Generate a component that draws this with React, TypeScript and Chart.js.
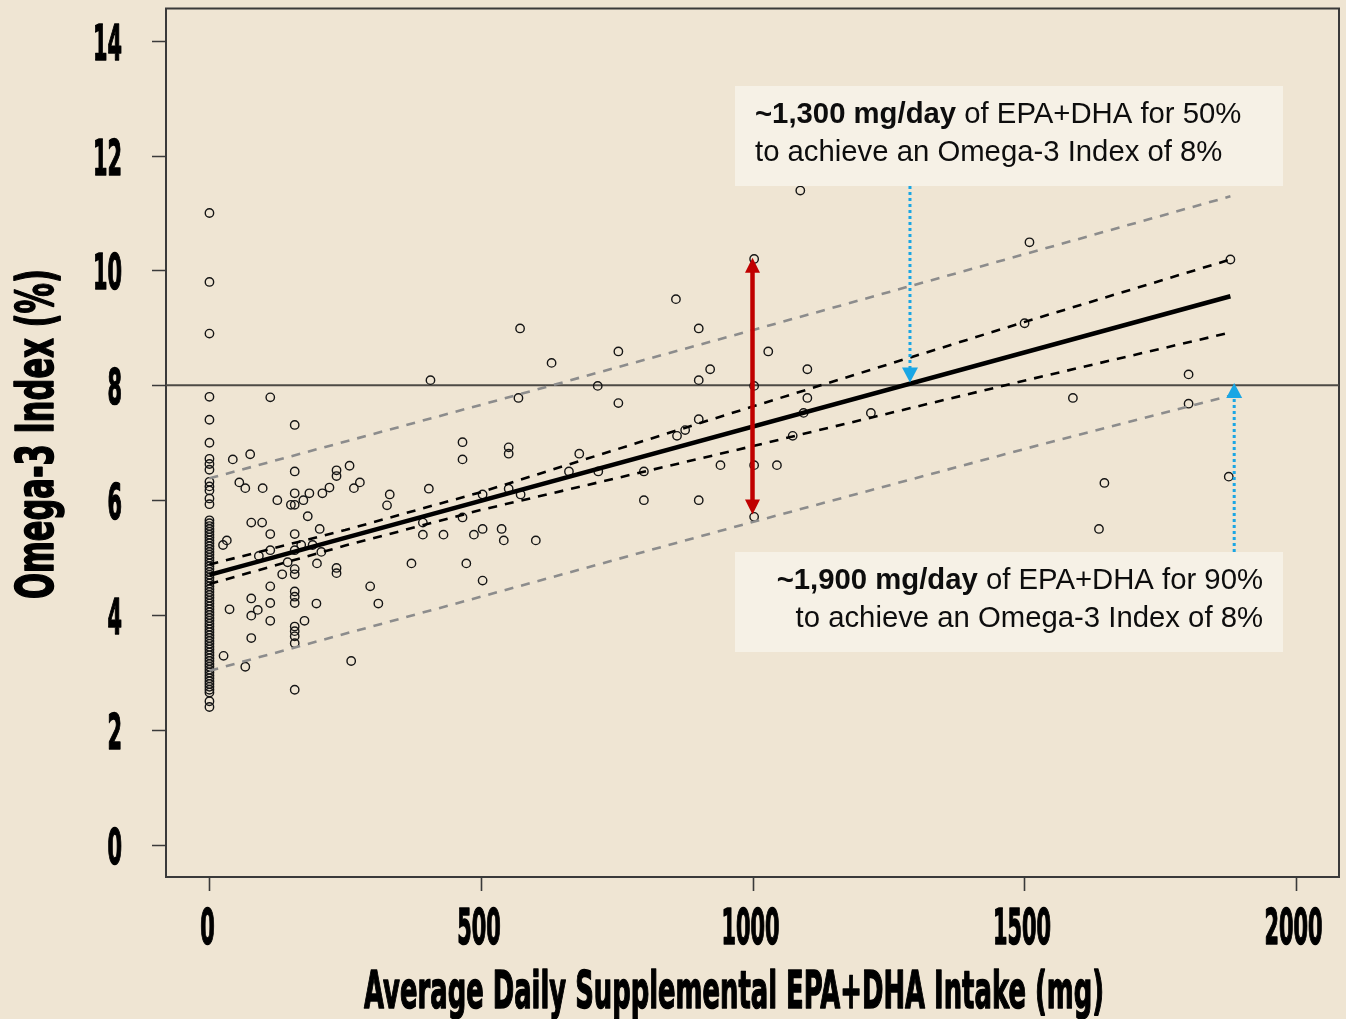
import React, { useEffect, useRef } from 'react';
import { Chart, registerables } from 'chart.js';

Chart.register(...registerables);

// ---------- data ----------
const X_TICKS = [0, 500, 1000, 1500, 2000];
const Y_TICKS = [0, 2, 4, 6, 8, 10, 12, 14];
const X_LIMITS = [-80, 2080];
const Y_LIMITS = [-0.56, 14.56];

const X_TITLE = 'Average Daily Supplemental EPA+DHA Intake (mg)';
const Y_TITLE = 'Omega-3 Index (%)';

// Omega-3 Index of participants taking no supplement (dose = 0)
const NO_SUPPLEMENT_INDEX = [
  11.0, 9.8, 8.9, 7.8, 7.4, 7.0, 6.72, 6.63, 6.53, 6.32, 6.24, 6.17, 6.03, 5.93,
  5.65, 5.6, 5.55, 5.5, 5.45, 5.4, 5.35, 5.3, 5.25, 5.2, 5.15, 5.1, 5.05, 5.0,
  4.95, 4.9, 4.85, 4.8, 4.75, 4.7, 4.65, 4.6, 4.55, 4.5, 4.45, 4.4, 4.35, 4.3,
  4.25, 4.2, 4.15, 4.1, 4.05, 4.0, 3.95, 3.9, 3.85, 3.8, 3.75, 3.7, 3.65, 3.6,
  3.55, 3.5, 3.45, 3.4, 3.35, 3.3, 3.25, 3.2, 3.15, 3.1, 3.05, 3.0, 2.95, 2.9,
  2.85, 2.8, 2.75, 2.7, 2.65, 2.5, 2.4,
];

// [dose mg/day, Omega-3 Index %] for supplement users
const SUPPLEMENTED = [
  [25, 5.22], [32, 5.3], [26, 3.29], [37, 4.1], [43, 6.71], [55, 6.31], [66, 6.21], [66, 3.1],
  [75, 6.8], [77, 5.61], [77, 4.29], [77, 3.99], [77, 3.6], [89, 4.09], [91, 5.03], [97, 5.61],
  [98, 6.21], [112, 7.79], [112, 5.41], [112, 5.13], [112, 4.5], [112, 4.21], [112, 3.9],
  [125, 6.0], [134, 4.71], [144, 4.92], [150, 5.92], [157, 7.31], [157, 6.5], [157, 6.12],
  [157, 5.92], [157, 5.41], [157, 5.13], [157, 4.8], [157, 4.71], [157, 4.41], [157, 4.32],
  [157, 4.21], [157, 3.8], [157, 3.72], [157, 3.63], [157, 3.51], [157, 2.7], [173, 6.0],
  [175, 3.9], [181, 5.72], [184, 6.12], [169, 5.22], [190, 5.22], [197, 4.2], [198, 4.9],
  [203, 5.5], [206, 5.1], [208, 6.12], [221, 6.22], [234, 6.52], [234, 6.42], [234, 4.82],
  [234, 4.73], [258, 6.6], [261, 3.2], [266, 6.21], [277, 6.31], [296, 4.5], [311, 4.2],
  [327, 5.91], [332, 6.1], [372, 4.9], [393, 5.61], [393, 5.4], [404, 6.2], [407, 8.09],
  [431, 5.4], [466, 7.01], [466, 6.71], [466, 5.7], [473, 4.9], [487, 5.4], [503, 6.1],
  [503, 5.5], [503, 4.6], [538, 5.5], [542, 5.3], [551, 6.92], [551, 6.81], [551, 6.2],
  [569, 7.78], [572, 8.99], [573, 6.1], [601, 5.3], [630, 8.39], [662, 6.5], [681, 6.81],
  [715, 7.99], [716, 6.5], [753, 8.59], [753, 7.69], [800, 6.5], [800, 6.0], [859, 9.5],
  [861, 7.12], [876, 7.22], [901, 8.99], [901, 8.09], [901, 7.41], [901, 6.0], [922, 8.28],
  [941, 6.61], [1003, 10.2], [1003, 7.99], [1003, 6.61], [1003, 5.71], [1029, 8.59],
  [1045, 6.61], [1074, 7.12], [1088, 11.39], [1094, 7.52], [1101, 8.28], [1101, 7.78],
  [1218, 7.52], [1501, 9.08], [1510, 10.49], [1590, 7.78], [1638, 5.5], [1648, 6.3],
  [1803, 8.19], [1803, 7.68], [1877, 6.41], [1880, 10.19],
];

// regression fit and bands
const FIT_X = [0, 1880];
const FIT_Y = [4.7, 9.55];
const CI_X = [0, 250, 500, 1000, 1500, 1880];
const CI_UPPER = [4.88, 5.48, 6.14, 7.63, 9.1, 10.19];
const CI_LOWER = [4.54, 5.21, 5.83, 6.94, 8.08, 8.92];
const PI_X = [0, 500, 1000, 1500, 1880];
const PI_UPPER = [6.38, 7.66, 8.96, 10.28, 11.29];
const PI_LOWER = [3.03, 4.32, 5.62, 6.89, 7.82];
const TARGET_INDEX = 8;

// annotation arrows (data units)
const RANGE_ARROW = { x: 1000, low: 5.75, high: 10.22 };
const DOSE_50_ARROW = { x: 1290, from: 11.47, to: 8.05 };
const DOSE_90_ARROW = { x: 1887, from: 5.1, to: 8.04 };

const NOTE_50 = ['~1,300 mg/day', ' of EPA+DHA for 50%', 'to achieve an Omega-3 Index of 8%'];
const NOTE_90 = ['~1,900 mg/day', ' of EPA+DHA for 90%', 'to achieve an Omega-3 Index of 8%'];

// ---------- styles ----------
const BG = '#efe5d3';
const NOTE_BG = '#f6f1e6';
const AXIS_COLOR = '#3a3a3a';
const BIG_FONT = '"DejaVu Sans", sans-serif';
const NOTE_FONT = '"Liberation Sans", Arial, sans-serif';
const NOTE_SIZE = 29.3;

function condensedText(ctx: CanvasRenderingContext2D, text: string, x: number, y: number, scaleX: number, align: CanvasTextAlign) {
  ctx.save();
  ctx.translate(x, y);
  ctx.scale(scaleX, 1);
  ctx.textAlign = align;
  ctx.textBaseline = 'alphabetic';
  ctx.lineJoin = 'round';
  ctx.lineWidth = 1.6;
  ctx.strokeStyle = '#000';
  ctx.strokeText(text, 0, 0);
  ctx.fillText(text, 0, 0);
  ctx.restore();
}

function head(ctx: CanvasRenderingContext2D, x: number, tipY: number, dir: number, w: number, h: number) {
  ctx.beginPath();
  ctx.moveTo(x, tipY);
  ctx.lineTo(x - w / 2, tipY - dir * h);
  ctx.lineTo(x + w / 2, tipY - dir * h);
  ctx.closePath();
  ctx.fill();
}

const framePlugin = {
  id: 'frame',
  beforeDatasetsDraw(chart: any) {
    const { ctx, chartArea: a, scales } = chart;
    const xs = scales.x;
    const ys = scales.y;
    ctx.save();
    ctx.strokeStyle = AXIS_COLOR;
    ctx.lineWidth = 2;
    ctx.strokeRect(a.left, a.top, a.right - a.left, a.bottom - a.top);
    ctx.lineWidth = 1.6;
    ctx.beginPath();
    for (const v of Y_TICKS) {
      const p = Math.round(ys.getPixelForValue(v)) + 0.5;
      ctx.moveTo(a.left - 14, p);
      ctx.lineTo(a.left, p);
    }
    for (const v of X_TICKS) {
      const p = Math.round(xs.getPixelForValue(v)) + 0.5;
      ctx.moveTo(p, a.bottom);
      ctx.lineTo(p, a.bottom + 14);
    }
    ctx.stroke();

    // tick labels
    ctx.fillStyle = '#000';
    ctx.font = `bold 50px ${BIG_FONT}`;
    const digitW = ctx.measureText('0').width;
    const s = 14.5 / digitW;
    for (const v of Y_TICKS) {
      const p = ys.getPixelForValue(v);
      condensedText(ctx, String(v), a.left - 44, p + 19, s, 'right');
    }
    for (const v of X_TICKS) {
      const p = xs.getPixelForValue(v);
      condensedText(ctx, String(v), p - 2, a.bottom + 67, s, 'center');
    }

    // axis titles
    ctx.font = `bold 52px ${BIG_FONT}`;
    const xw = ctx.measureText(X_TITLE).width;
    condensedText(ctx, X_TITLE, 734, 1008, 740 / xw, 'center');
    ctx.font = `bold 51px ${BIG_FONT}`;
    const yw = ctx.measureText(Y_TITLE).width;
    ctx.save();
    ctx.translate(53, 434);
    ctx.rotate(-Math.PI / 2);
    condensedText(ctx, Y_TITLE, 0, 0, 330 / yw, 'center');
    ctx.restore();
    ctx.restore();
  },
  afterDatasetsDraw(chart: any) {
    const { ctx, scales } = chart;
    const xs = scales.x;
    const ys = scales.y;
    ctx.save();

    // red range arrow
    const rx = xs.getPixelForValue(RANGE_ARROW.x);
    const rTop = ys.getPixelForValue(RANGE_ARROW.high);
    const rBot = ys.getPixelForValue(RANGE_ARROW.low);
    ctx.strokeStyle = '#c00000';
    ctx.fillStyle = '#c00000';
    ctx.lineWidth = 4.5;
    ctx.beginPath();
    ctx.moveTo(rx, rTop + 12);
    ctx.lineTo(rx, rBot - 12);
    ctx.stroke();
    head(ctx, rx, rTop, -1, 15, 15);
    head(ctx, rx, rBot, 1, 15, 15);

    // notes
    const drawNote = (note: string[], left: number, top: number, right: number, bottom: number, alignRight: boolean) => {
      ctx.fillStyle = NOTE_BG;
      ctx.fillRect(left, top, right - left, bottom - top);
      ctx.fillStyle = '#0d0d0d';
      ctx.textBaseline = 'alphabetic';
      ctx.textAlign = 'left';
      ctx.font = `bold ${NOTE_SIZE}px ${NOTE_FONT}`;
      const wb = ctx.measureText(note[0]).width;
      ctx.font = `${NOTE_SIZE}px ${NOTE_FONT}`;
      const wr = ctx.measureText(note[1]).width;
      const w2 = ctx.measureText(note[2]).width;
      const x1 = alignRight ? right - 20 - (wb + wr) : left + 20;
      const x2 = alignRight ? right - 20 - w2 : left + 20;
      ctx.font = `bold ${NOTE_SIZE}px ${NOTE_FONT}`;
      ctx.fillText(note[0], x1, top + 37);
      ctx.font = `${NOTE_SIZE}px ${NOTE_FONT}`;
      ctx.fillText(note[1], x1 + wb, top + 37);
      ctx.fillText(note[2], x2, top + 75);
    };
    drawNote(NOTE_50, 735, 86, 1283, 186, false);
    drawNote(NOTE_90, 735, 552, 1283, 652, true);

    // blue dotted arrows
    ctx.strokeStyle = '#1aa6e4';
    ctx.fillStyle = '#1aa6e4';
    ctx.lineWidth = 3;
    ctx.setLineDash([3, 3]);
    for (const ar of [DOSE_50_ARROW, DOSE_90_ARROW]) {
      const bx = xs.getPixelForValue(ar.x);
      const y0 = ys.getPixelForValue(ar.from);
      const y1 = ys.getPixelForValue(ar.to);
      const dir = y1 > y0 ? 1 : -1;
      ctx.beginPath();
      ctx.moveTo(bx, y0);
      ctx.lineTo(bx, y1 - dir * 14);
      ctx.stroke();
    }
    ctx.setLineDash([]);
    for (const ar of [DOSE_50_ARROW, DOSE_90_ARROW]) {
      const bx = xs.getPixelForValue(ar.x);
      const y0 = ys.getPixelForValue(ar.from);
      const y1 = ys.getPixelForValue(ar.to);
      const dir = y1 > y0 ? 1 : -1;
      head(ctx, bx, y1, dir, 16, 15);
    }
    ctx.restore();
  },
};

const pairs = (xs: number[], ys: number[]) => xs.map((x, i) => ({ x, y: ys[i] }));

export default function App() {
  const ref = useRef<HTMLCanvasElement | null>(null);
  useEffect(() => {
    if (!ref.current) return;
    const points = [
      ...NO_SUPPLEMENT_INDEX.map((y) => ({ x: 0, y })),
      ...SUPPLEMENTED.map(([x, y]) => ({ x, y })),
    ];
    const lineBase = { pointRadius: 0, showLine: true, fill: false, tension: 0 };
    const chart = new Chart(ref.current, {
      type: 'scatter',
      data: {
        datasets: [
          {
            label: 'Participants',
            data: points,
            pointRadius: 4.2,
            pointBorderWidth: 1.4,
            borderColor: '#151515',
            backgroundColor: 'rgba(0,0,0,0)',
            order: 5,
          } as any,
          {
            ...lineBase,
            label: 'Target',
            data: [{ x: X_LIMITS[0], y: TARGET_INDEX }, { x: X_LIMITS[1], y: TARGET_INDEX }],
            borderColor: '#4d4a45',
            borderWidth: 2,
            order: 6,
          },
          { ...lineBase, label: 'PI upper', data: pairs(PI_X, PI_UPPER), borderColor: '#8c8c8c', borderWidth: 2.6, borderDash: [9, 8], order: 3 },
          { ...lineBase, label: 'PI lower', data: pairs(PI_X, PI_LOWER), borderColor: '#8c8c8c', borderWidth: 2.6, borderDash: [9, 8], order: 3 },
          { ...lineBase, label: 'CI upper', data: pairs(CI_X, CI_UPPER), borderColor: '#000', borderWidth: 2.6, borderDash: [9, 8], order: 2 },
          { ...lineBase, label: 'CI lower', data: pairs(CI_X, CI_LOWER), borderColor: '#000', borderWidth: 2.6, borderDash: [9, 8], order: 2 },
          { ...lineBase, label: 'Fit', data: pairs(FIT_X, FIT_Y), borderColor: '#000', borderWidth: 4.5, order: 1 },
        ],
      },
      options: {
        animation: false,
        responsive: false,
        devicePixelRatio: 1,
        events: [],
        layout: { padding: { left: 166, right: 7, top: 8.5, bottom: 142 } },
        plugins: { legend: { display: false }, tooltip: { enabled: false } },
        scales: {
          x: { type: 'linear', display: false, min: X_LIMITS[0], max: X_LIMITS[1] },
          y: { type: 'linear', display: false, min: Y_LIMITS[0], max: Y_LIMITS[1] },
        },
      },
      plugins: [framePlugin],
    });
    return () => chart.destroy();
  }, []);
  return (
    <div style={{ position: 'fixed', left: 0, top: 0, width: 1346, height: 1019, background: BG }}>
      <canvas ref={ref} width={1346} height={1019} style={{ width: 1346, height: 1019, display: 'block' }} />
    </div>
  );
}
